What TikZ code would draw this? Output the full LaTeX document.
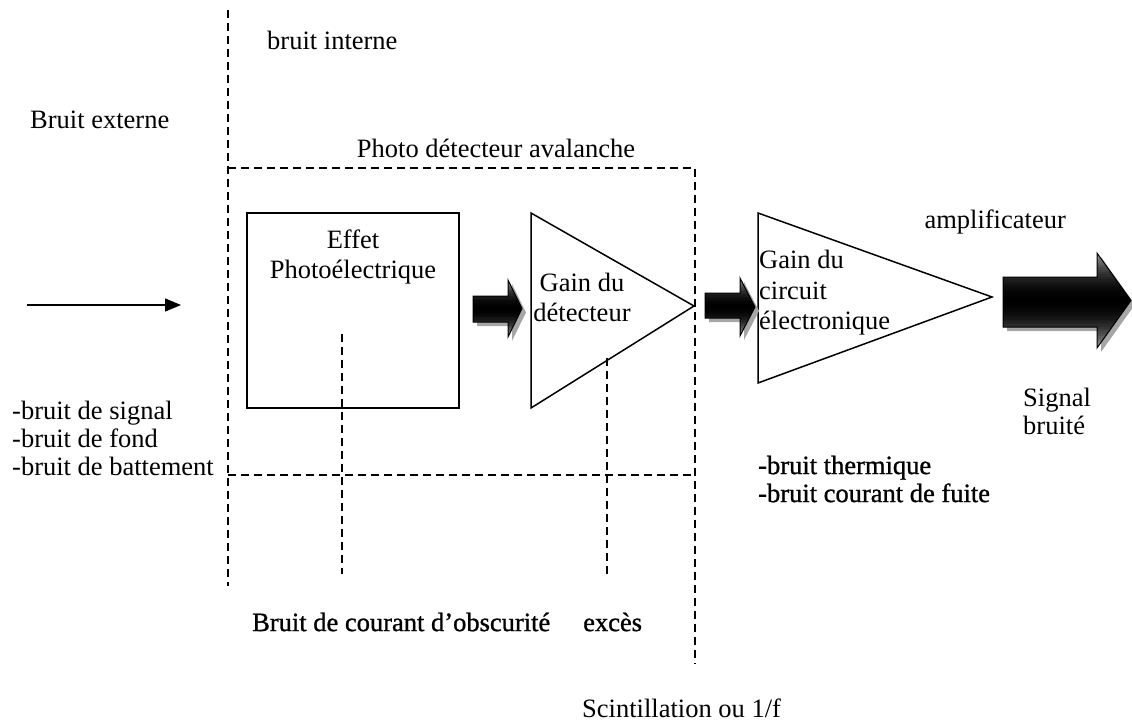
\documentclass[tikz,border=0pt]{standalone}
\usepackage{fontspec}
\setmainfont{Liberation Serif}
\newfontfamily\heavyserif[FakeBold=1]{Liberation Serif}
\usetikzlibrary{arrows.meta}
\begin{document}
\begin{tikzpicture}[x=1pt,y=-1pt,
  txt/.style={inner sep=0pt,font=\fontsize{26.5}{30}\selectfont},
  heavy/.style={font=\heavyserif\fontsize{26.5}{28}\selectfont},
  dsh/.style={line width=1.6pt,dash pattern=on 8pt off 5pt},
  solid line/.style={line width=1.5pt},
  shadowarrow/.style={fill=black!35,draw=none}
]
\useasboundingbox (0,0) rectangle (1132,722);
% dashed frame coordinates
\coordinate (vtop) at (228,10);
\coordinate (vbot) at (228,586);
\coordinate (tl) at (228,168);
\coordinate (tr) at (695,168);
\coordinate (rbot) at (695,664);
\coordinate (bl) at (228,475);
\coordinate (br) at (695,475);
\coordinate (d1a) at (342,334);
\coordinate (d1b) at (342,574);
\coordinate (d2a) at (607,358);
\coordinate (d2b) at (607,574);
\draw[dsh] (vtop) -- (vbot);
\draw[dsh] (tl) -- (tr) -- (rbot);
\draw[dsh] (bl) -- (br);
\draw[dsh] (d1a) -- (d1b);
\draw[dsh] (d2a) -- (d2b);

% photoelectric box
\node[draw,solid line,minimum width=212pt,minimum height=195pt,inner sep=0pt] (box) at (353,310.5) {};
\node[txt,align=center,font=\fontsize{26.5}{30}\selectfont] (effet) at (353,257) {Effet\\Photoélectrique};

% triangle 1
\coordinate (t1a) at (531,213);
\coordinate (t1b) at (531,408);
\coordinate (t1c) at (694,306);
\draw[solid line,line join=miter] (t1a) -- (t1c) -- (t1b) -- cycle;
\node[txt,align=center] (gain1) at (582,297) {Gain du\\détecteur};

% triangle 2
\coordinate (t2a) at (758,213);
\coordinate (t2b) at (758,383);
\coordinate (t2c) at (992,297);
\draw[solid line,line join=miter] (t2a) -- (t2c) -- (t2b) -- cycle;
\node[txt,align=left,anchor=west,font=\fontsize{26.5}{30.5}\selectfont] (gain2) at (759,293) {Gain du\\circuit\\électronique};

% thin input arrow
\coordinate (in1) at (27,305);
\coordinate (in2) at (181,305);
\draw[line width=1.5pt,-{Triangle[length=16pt,width=13pt]}] (in1) -- (in2);

% block arrows with manual gradient
\foreach \xl/\bt/\bb/\xh/\ht/\hb/\xt in {473/296/322/508/280/337/522, 705/293/318/740/278/336/755, 1003/277/327/1097/253/348/1131}{
  \pgfmathsetmacro{\ym}{(\ht+\hb)/2}
  \fill[shadowarrow,shift={(4,4)}] (\xl,\bt) -- (\xh,\bt) -- (\xh,\ht) -- (\xt,\ym) -- (\xh,\hb) -- (\xh,\bb) -- (\xl,\bb) -- cycle;
  \begin{scope}
    \clip (\xl,\bt) -- (\xh,\bt) -- (\xh,\ht) -- (\xt,\ym) -- (\xh,\hb) -- (\xh,\bb) -- (\xl,\bb) -- cycle;
    \foreach \i in {0,...,39}{
      \pgfmathsetmacro{\ya}{\ht+(\hb-\ht)*\i/40}
      \pgfmathsetmacro{\yb}{\ht+(\hb-\ht)*(\i+1)/40+0.6}
      \pgfmathsetmacro{\tt}{(\i+0.5)/20-1}
      \pgfmathsetmacro{\pct}{100-62*\tt*\tt}
      \fill[black!\pct] (\xl-1,\ya) rectangle (\xt+1,\yb);
    }
  \end{scope}
  \draw[line width=1pt,line join=miter] (\xl,\bt) -- (\xh,\bt) -- (\xh,\ht) -- (\xt,\ym) -- (\xh,\hb) -- (\xh,\bb) -- (\xl,\bb) -- cycle;
}

% texts
\node[txt,anchor=west] (interne) at (267,40) {bruit interne};
\node[txt,anchor=west] (externe) at (30,120) {Bruit externe};
\node[txt] (apd) at (496,148) {Photo détecteur avalanche};
\node[txt,anchor=east] (ampli) at (1066,222) {amplificateur};
\node[txt,align=left,anchor=west,font=\fontsize{26.5}{28}\selectfont] (sig) at (1023,411) {Signal\\bruité};
\node[txt,align=left,anchor=west,font=\fontsize{26.5}{28}\selectfont] (ext) at (12,438) {-bruit de signal\\-bruit de fond\\-bruit de battement};
\node[txt,heavy,align=left,anchor=west] (therm) at (758,479) {-bruit thermique\\-bruit courant de fuite};
\node[txt,heavy,anchor=west] (obsc) at (252,622) {Bruit de courant d’obscurité};
\node[txt,heavy,anchor=west] (exces) at (583,622) {excès};
\node[txt,anchor=west] (scint) at (582,708) {Scintillation ou 1/f};
\end{tikzpicture}
\end{document}
